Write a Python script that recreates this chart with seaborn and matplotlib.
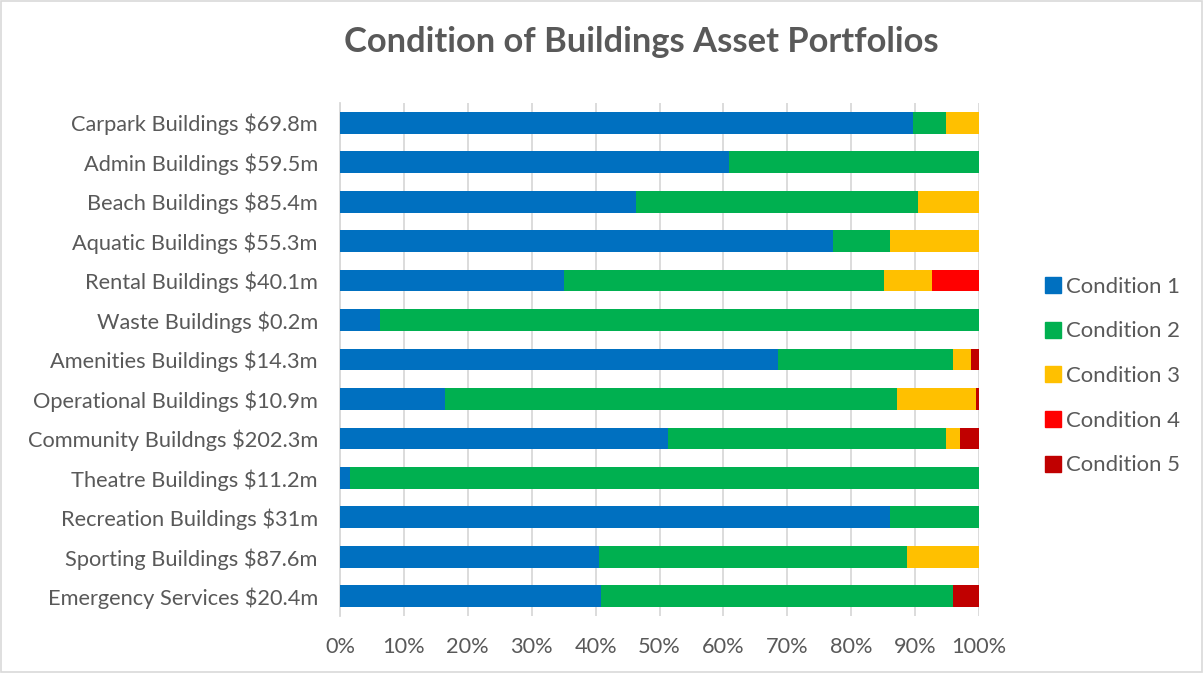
import matplotlib
matplotlib.use("Agg")
import matplotlib.pyplot as plt
import seaborn as sns
import pandas as pd
import numpy as np
from matplotlib.patches import Rectangle
from matplotlib.lines import Line2D

categories = [
    "Carpark Buildings $69.8m",
    "Admin Buildings $59.5m",
    "Beach Buildings $85.4m",
    "Aquatic Buildings $55.3m",
    "Rental Buildings $40.1m",
    "Waste Buildings $0.2m",
    "Amenities Buildings $14.3m",
    "Operational Buildings $10.9m",
    "Community Buildngs $202.3m",
    "Theatre Buildings $11.2m",
    "Recreation Buildings $31m",
    "Sporting Buildings $87.6m",
    "Emergency Services $20.4m",
]
condition1 = [89.6, 60.8, 46.4, 77.2, 35.0, 6.2, 68.5, 16.4, 51.3, 1.6, 86.1, 40.6, 40.9]
condition2 = [5.3, 39.2, 44.1, 8.9, 50.1, 93.8, 27.5, 70.8, 43.6, 98.4, 13.9, 48.1, 55.1]
condition3 = [5.1, 0.0, 9.5, 13.9, 7.6, 0.0, 2.7, 12.3, 2.2, 0.0, 0.0, 11.3, 0.0]
condition4 = [0.0, 0.0, 0.0, 0.0, 7.3, 0.0, 0.0, 0.0, 0.0, 0.0, 0.0, 0.0, 0.0]
condition5 = [0.0, 0.0, 0.0, 0.0, 0.0, 0.0, 1.3, 0.5, 2.9, 0.0, 0.0, 0.0, 4.0]
series_names = ["Condition 1", "Condition 2", "Condition 3", "Condition 4", "Condition 5"]
colors = ["#0070C0", "#00B050", "#FFC000", "#FF0000", "#C00000"]

sns.set_theme(style="white")
plt.rcParams["font.family"] = ["Lato", "DejaVu Sans"]
text_col = "#595959"
grid_col = "#D9D9D9"

series = [condition1, condition2, condition3, condition4, condition5]
cum = np.cumsum(np.array(series), axis=0)

fig = plt.figure(figsize=(12.03, 6.73), dpi=100)
ax = fig.add_axes([340 / 1203, 1 - 616 / 673, (979 - 340) / 1203, (616 - 103) / 673])

# draw cumulative bars from the end so earlier segments overlay
for i in range(len(series) - 1, -1, -1):
    df = pd.DataFrame({"category": categories, "value": cum[i]})
    sns.barplot(data=df, x="value", y="category", color=colors[i], width=0.55,
                orient="h", ax=ax, saturation=1, linewidth=0, zorder=3)

ax.set_xlim(0, 100)
ax.set_ylim(len(categories) - 0.5, -0.5)
ax.set_xticks(np.arange(0, 101, 10))
ax.set_xticklabels([f"{v}%" for v in range(0, 101, 10)])
ax.set_xlabel("")
ax.set_ylabel("")
ax.xaxis.grid(True, color=grid_col, linewidth=1.3, zorder=0)
ax.set_axisbelow(True)
for s in ["top", "right", "bottom"]:
    ax.spines[s].set_visible(False)
ax.spines["left"].set_color(grid_col)
ax.spines["left"].set_linewidth(1.3)
ax.tick_params(axis="x", length=0, pad=15, labelsize=15.7, labelcolor=text_col)
ax.tick_params(axis="y", which="major", length=0, pad=16, labelsize=15.7, labelcolor=text_col)
ax.set_yticks(np.arange(-0.5, len(categories), 1), minor=True)
ax.tick_params(axis="y", which="minor", length=5, width=1.3, color=grid_col, direction="out")

fig.text(641 / 1203, 1 - 42 / 673, "Condition of Buildings Asset Portfolios",
         ha="center", va="center", fontsize=24.8, fontweight="bold", color=text_col)

handles = [Line2D([0], [0], marker="s", linestyle="none", markersize=11,
                  markerfacecolor=c, markeredgecolor=c) for c in colors]
leg = fig.legend(handles, series_names, loc="center left",
                 bbox_to_anchor=(1033 / 1203, 1 - 376 / 673), frameon=False,
                 fontsize=15.9, labelcolor=text_col, handletextpad=0.1,
                 labelspacing=1.12, handlelength=1.0, borderaxespad=0)

fig.patches.append(Rectangle((0.0008, 0.0012), 0.9984, 0.9976, transform=fig.transFigure,
                             fill=False, edgecolor=grid_col, linewidth=1.2))

fig.savefig("out.png", dpi=100)
